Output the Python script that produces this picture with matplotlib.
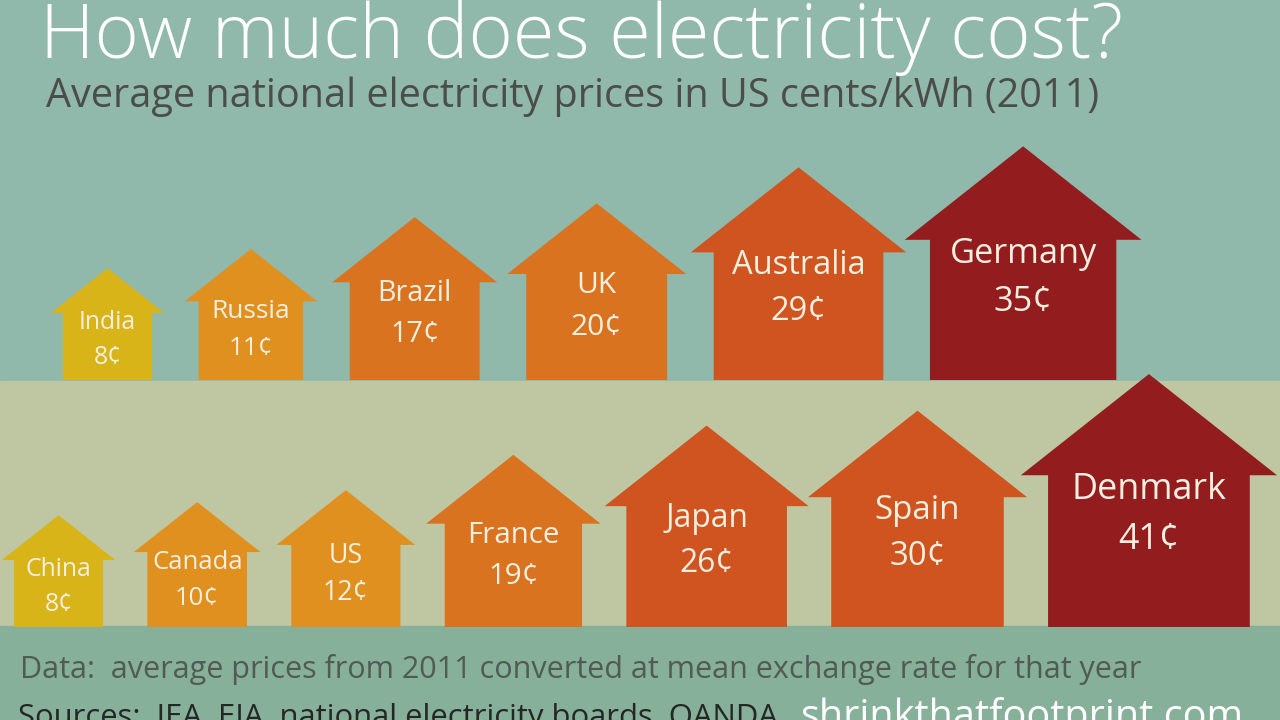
import numpy as np
import matplotlib
matplotlib.use("Agg")
import matplotlib.pyplot as plt
from matplotlib.patches import Polygon
from matplotlib.colors import ListedColormap, BoundaryNorm

# Average national electricity prices, US cents/kWh (2011)
top_countries = ["India", "Russia", "Brazil", "UK", "Australia", "Germany"]
top_prices = [8, 11, 17, 20, 29, 35]

bottom_countries = ["China", "Canada", "US", "France", "Japan", "Spain", "Denmark"]
bottom_prices = [8, 10, 12, 19, 26, 30, 41]

title = "How much does electricity cost?"
subtitle = "Average national electricity prices in US cents/kWh (2011)"
note = "Data:  average prices from 2011 converted at mean exchange rate for that year"
sources = "Sources:  IEA, EIA, national electricity boards, OANDA"
site = "shrinkthatfootprint.com"

# price bins -> house colour
price_cmap = ListedColormap(["#d8b418", "#e0901f", "#da731f", "#cf541f", "#921c1e"])
price_norm = BoundaryNorm([0, 9, 15, 23, 33, 100], price_cmap.N)

plt.rcParams["font.family"] = ["Open Sans", "DejaVu Sans"]

fig = plt.figure(figsize=(12.8, 7.2), dpi=100)
ax = fig.add_axes([0, 0, 1, 1])
ax.set_xlim(0, 1280)
ax.set_ylim(720, 0)
ax.axis("off")

# background bands
ax.axhspan(0, 381, color="#90b8ab", zorder=0)
ax.axhspan(381, 626, color="#bec6a2", zorder=0)
ax.axhspan(626, 720, color="#86b099", zorder=0)


def draw_row(countries, prices, base, start, gap):
    # house area is proportional to price
    left = start
    for name, p in zip(countries, prices):
        s = np.sqrt(p)
        h = 39.5 * s          # total height
        bw = 31.5 * s         # body width
        ew = 1.27 * bw        # eave width
        wall = base - 0.6 * h
        cx = left + bw / 2
        pts = [(cx - bw / 2, base), (cx - bw / 2, wall), (cx - ew / 2, wall),
               (cx, base - h), (cx + ew / 2, wall), (cx + bw / 2, wall),
               (cx + bw / 2, base)]
        ax.add_patch(Polygon(pts, closed=True, color=price_cmap(price_norm(p)),
                             lw=0, zorder=2))
        fpx = 16 + 3.1 * s
        ny = wall + 0.4 * fpx
        ax.text(cx, ny, name, color="#f7efe0", fontsize=fpx * 0.72,
                ha="center", va="center", zorder=3)
        ax.text(cx, ny + 1.4 * fpx, f"{p}\u00a2", color="#f7efe0",
                fontsize=fpx * 0.72, ha="center", va="center", zorder=3)
        left += bw + gap


draw_row(top_countries, top_prices, 380, 63, 46.6)
draw_row(bottom_countries, bottom_prices, 627, 14, 44.3)

ax.text(40, 58, title, color="white", fontsize=54.5, fontweight="light",
        ha="left", va="baseline")
ax.text(46, 107, subtitle, color="#4b4d4a", fontsize=28.5,
        ha="left", va="baseline")
ax.text(20, 678, note, color="#515b54", fontsize=22,
        ha="left", va="baseline")
ax.text(18, 726, sources, color="#262626", fontsize=22.3,
        ha="left", va="baseline")
ax.text(800, 728, site, color="white", fontsize=28.5,
        ha="left", va="baseline")

fig.savefig("out.png", dpi=100)
